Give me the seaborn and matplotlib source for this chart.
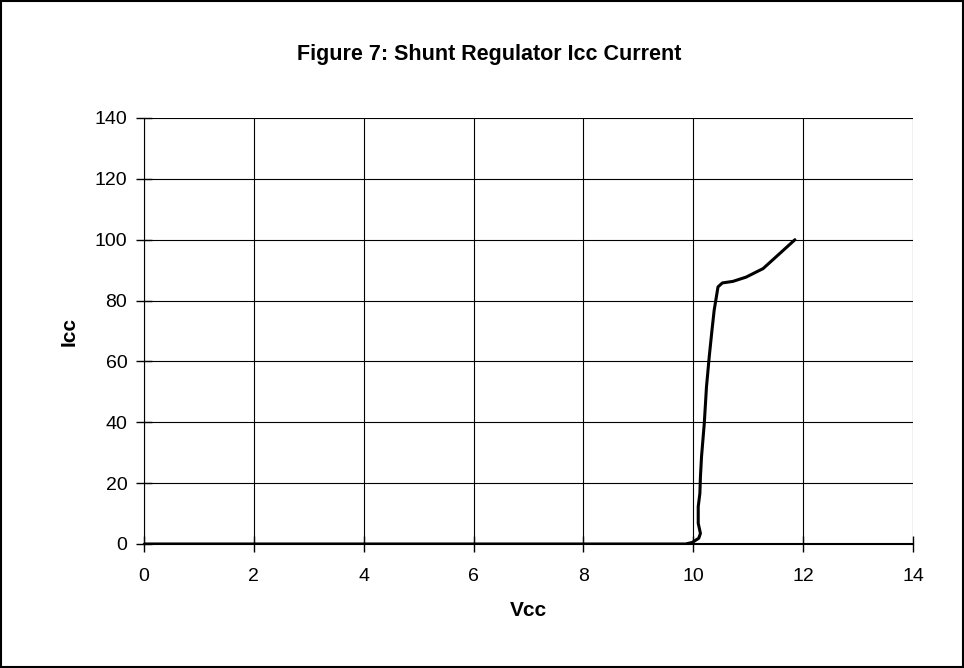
import matplotlib
matplotlib.use("Agg")
import matplotlib.pyplot as plt
import seaborn as sns
import pandas as pd
from matplotlib.patches import Rectangle

vcc = [0.0, 2.0, 4.0, 6.0, 8.0, 9.86, 9.98, 10.10, 10.13, 10.09, 10.09, 10.12, 10.13,
       10.15, 10.20, 10.24, 10.29, 10.34, 10.38, 10.42, 10.45, 10.53, 10.72, 10.96,
       11.27, 11.57, 11.85]
icc = [0.0, 0.0, 0.0, 0.0, 0.0, 0.0, 0.5, 1.9, 3.5, 6.8, 12.3, 16.6, 22.0,
       28.7, 39.6, 51.6, 61.5, 70.2, 76.8, 81.2, 84.5, 85.8, 86.3, 87.7,
       90.5, 95.4, 100.0]
x_ticks = [0, 2, 4, 6, 8, 10, 12, 14]
y_ticks = [0, 20, 40, 60, 80, 100, 120, 140]
title = "Figure 7: Shunt Regulator Icc Current"

df = pd.DataFrame({"Vcc": vcc, "Icc": icc})

sns.set_style("white")
plt.rcParams['font.family'] = ['Liberation Sans', 'DejaVu Sans']
plt.rcParams['text.color'] = 'black'
plt.rcParams['axes.labelcolor'] = 'black'

W, H = 964, 668
fig = plt.figure(figsize=(W / 100, H / 100), dpi=100)
fig.patches.append(Rectangle((0.0015, 0.002), 0.997, 0.996, transform=fig.transFigure,
                             fill=False, edgecolor='black', linewidth=1.5))
ax = fig.add_axes([144 / W, (H - 544) / H, 769 / W, 426 / H])

sns.lineplot(data=df, x="Vcc", y="Icc", sort=False, estimator=None, ax=ax,
             color='black', linewidth=2.2)

ax.set_xlim(0, 14)
ax.set_ylim(0, 140)
ax.set_xticks(x_ticks)
ax.set_yticks(y_ticks)
ax.tick_params(bottom=True, left=True, direction='inout', length=12, width=1,
               colors='black', labelsize=14)
ax.tick_params(axis='x', pad=11)
ax.tick_params(axis='y', pad=6)
ax.grid(True, color='black', linewidth=0.8)
ax.set_axisbelow(True)
for s in ax.spines.values():
    s.set_visible(False)
ax.spines['left'].set_visible(True)
ax.spines['bottom'].set_visible(True)
ax.spines['left'].set_color('black')
ax.spines['bottom'].set_color('black')
ax.spines['bottom'].set_linewidth(1.5)

ax.set_xlabel("Vcc", fontsize=15, fontweight='bold', color='black')
ax.set_ylabel("Icc", fontsize=15, fontweight='bold', color='black')
ax.xaxis.label.set_va('center')
ax.yaxis.label.set_va('center')
ax.yaxis.label.set_ha('center')
ax.xaxis.set_label_coords(0.5, (544 - 611) / 426)
ax.yaxis.set_label_coords((69 - 144) / 769, 0.5)
fig.text(489.5 / W, 1 - 60 / H, title, ha='center', va='baseline',
         fontsize=15.5, fontweight='bold', color='black')

fig.savefig("out.png", dpi=100)
